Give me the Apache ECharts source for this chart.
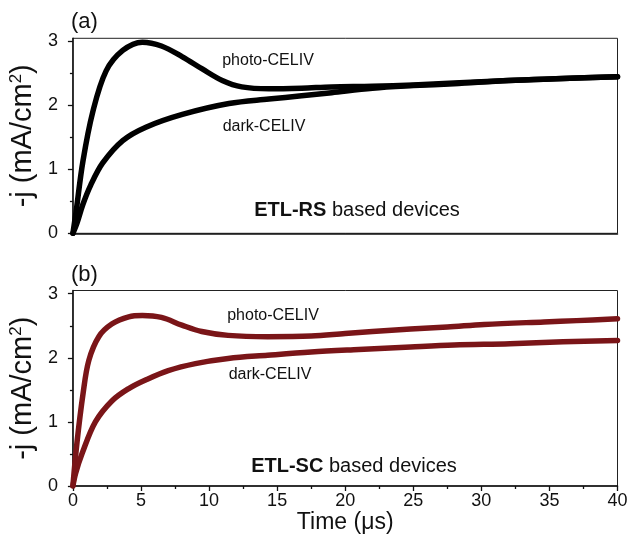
<!DOCTYPE html>
<html>
<head>
<meta charset="utf-8">
<script src="https://cdn.jsdelivr.net/npm/echarts@6/dist/echarts.min.js"></script>
<style>
html,body{margin:0;padding:0;background:#fff;}
#c{width:639px;height:544px;}
</style>
</head>
<body>
<div id="c"></div>
<script>
// Panel (a): ETL-RS
const rsPhoto = [[0,0],[0.24,0.35],[0.73,1.12],[1.46,1.9],[2.44,2.54],[3.66,2.86],[5.1,2.99],[6.5,2.93],[8.04,2.76],[9.5,2.57],[10.97,2.39],[12.4,2.29],[14.4,2.26],[16.8,2.27],[19,2.29],[22,2.3],[25,2.32],[28,2.35],[32,2.39],[36,2.42],[40,2.45]];
const rsDark = [[0,0],[0.3,0.16],[0.73,0.45],[1.3,0.75],[2.19,1.1],[3.66,1.45],[5.36,1.66],[8.04,1.86],[11.46,2.03],[14.4,2.1],[16.8,2.15],[19,2.2],[22,2.27],[25,2.31],[28,2.34],[32,2.39],[36,2.42],[40,2.45]];
// Panel (b): ETL-SC
const scPhoto = [[0,0],[0.3,0.68],[0.75,1.45],[1.17,1.96],[1.9,2.33],[2.88,2.53],[4.1,2.64],[5.1,2.66],[6.5,2.63],[8,2.51],[9.46,2.41],[11.4,2.35],[14.3,2.33],[17.5,2.34],[20,2.38],[22,2.41],[24.8,2.45],[27.5,2.48],[30.2,2.52],[34.6,2.56],[37,2.58],[40,2.61]];
const scDark = [[0,0],[0.2,0.2],[0.68,0.51],[1.65,1.0],[2.88,1.33],[4.1,1.52],[5.3,1.65],[7,1.8],[9,1.91],[11.4,1.99],[14.3,2.04],[17.5,2.09],[21,2.13],[24.8,2.17],[28,2.2],[32.1,2.22],[36,2.25],[40,2.27]];
const xTicks = [0,5,10,15,20,25,30,35,40];
const yTicks = [0,1,2,3];
const yMinorTicks = [0.5,1.5,2.5];

const FONT = "'Liberation Sans', Arial, sans-serif";
const chart = echarts.init(document.getElementById('c'), null, {renderer:'canvas'});

const grids = [
  {left:70, right:21.5, top:38.3, height:195, show:true, borderColor:'#222', borderWidth:1},
  {left:70.5, right:21.5, top:290.5, height:195.5, show:true, borderColor:'#222', borderWidth:1}
];
function xAxis(i, showLabels){
  return {
    type:'value', gridIndex:i, min:0, max:40, interval:5,
    axisLine:{show:true, onZero:false, lineStyle:{color:'#111', width:1.5}},
    axisTick:{show:showLabels, inside:false, length:5, lineStyle:{color:'#111', width:1.3}},
    minorTick:{show:showLabels, splitNumber:2, length:3, lineStyle:{color:'#111', width:1.3}},
    axisLabel:{show:showLabels, fontSize:18, fontFamily:FONT, color:'#111', margin:6},
    splitLine:{show:false},
    name: showLabels ? 'Time (\u03bcs)' : '',
    nameLocation:'middle', nameGap:19,
    nameTextStyle:{fontSize:23, fontFamily:FONT, color:'#111'}
  };
}
function yAxis(i){
  return {
    type:'value', gridIndex:i, min:0, max:3.05,
    axisLine:{show:true, onZero:false, lineStyle:{color:'#111', width:1.5}},
    axisTick:{show:true, length:5, customValues:yTicks, lineStyle:{color:'#111', width:1.3}},
    axisLabel:{show:true, customValues:yTicks, fontSize:18, fontFamily:FONT, color:'#111', margin:15},
    splitLine:{show:false},
    name:'-j (mA/cm{sup|2})',
    nameLocation:'middle', nameGap:24,
    nameTextStyle:{fontSize:29, fontFamily:FONT, color:'#111',
      rich:{sup:{fontSize:17, fontFamily:FONT, color:'#111', verticalAlign:'top', lineHeight:14}}}
  };
}
function yMinor(i){
  return {
    type:'value', gridIndex:i, min:0, max:3.05, position:'left',
    axisLine:{show:false},
    axisTick:{show:true, length:3, customValues:yMinorTicks, lineStyle:{color:'#111', width:1.3}},
    axisLabel:{show:false},
    splitLine:{show:false}
  };
}
function line(data, xi, yi, color){
  return {
    type:'line', xAxisIndex:xi, yAxisIndex:yi, data:data,
    smooth:0.35, showSymbol:false, symbol:'none',
    lineStyle:{color:color, width:5.5, cap:'round', join:'round'},
    silent:true, animation:false
  };
}
const RED = '#7a1518';
chart.setOption({
  backgroundColor:'#fff',
  animation:false,
  grid: grids,
  xAxis:[xAxis(0,false), xAxis(1,true)],
  yAxis:[yAxis(0), yAxis(1), yMinor(0), yMinor(1)],
  series:[
    line(rsPhoto,0,0,'#000'),
    line(rsDark,0,0,'#000'),
    line(scPhoto,1,1,RED),
    line(scDark,1,1,RED)
  ],
  graphic:[
    {type:'text', x:71, y:22, style:{text:'(a)', font:'22px '+FONT, fill:'#111', verticalAlign:'middle'}},
    {type:'text', x:71, y:275, style:{text:'(b)', font:'22px '+FONT, fill:'#111', verticalAlign:'middle'}},
    {type:'text', x:268, y:61, style:{text:'photo-CELIV', font:'16px '+FONT, fill:'#111', align:'center', verticalAlign:'middle'}},
    {type:'text', x:264, y:127, style:{text:'dark-CELIV', font:'16px '+FONT, fill:'#111', align:'center', verticalAlign:'middle'}},
    {type:'text', x:273, y:316, style:{text:'photo-CELIV', font:'16px '+FONT, fill:'#111', align:'center', verticalAlign:'middle'}},
    {type:'text', x:270, y:375, style:{text:'dark-CELIV', font:'16px '+FONT, fill:'#111', align:'center', verticalAlign:'middle'}},
    {type:'text', x:357, y:210, style:{text:'{b|ETL-RS} based devices', font:'20px '+FONT, fill:'#111', align:'center', verticalAlign:'middle',
      rich:{b:{fontWeight:'bold', fontSize:20, fontFamily:FONT, fill:'#111'}}}},
    {type:'text', x:354, y:466, style:{text:'{b|ETL-SC} based devices', font:'20px '+FONT, fill:'#111', align:'center', verticalAlign:'middle',
      rich:{b:{fontWeight:'bold', fontSize:20, fontFamily:FONT, fill:'#111'}}}}
  ]
});
</script>
</body>
</html>
